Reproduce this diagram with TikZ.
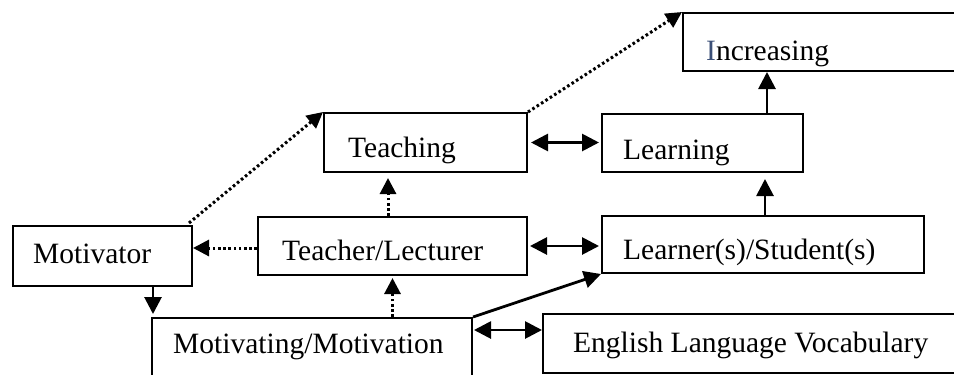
\documentclass[tikz,border=0pt]{standalone}
\usepackage{fontspec}
\setmainfont{Liberation Serif}
\usetikzlibrary{arrows.meta}
\definecolor{capblue}{RGB}{60,80,120}
\begin{document}
\begin{tikzpicture}[x=1bp,y=-1bp,
  box/.style={draw, line width=2bp, inner sep=0pt},
  lbl/.style={anchor=base west, inner sep=0pt, font=\fontsize{29.5bp}{34bp}\selectfont},
  arr/.style={line width=2.8bp, -{Triangle[length=17bp,width=17bp]}},
  dbl/.style={line width=2.8bp, {Triangle[length=17bp,width=17bp]}-{Triangle[length=17bp,width=17bp]}},
  dotarr/.style={line width=3bp, dash pattern=on 2.6bp off 2.6bp, -{Triangle[length=16bp,width=16bp]}}]
\useasboundingbox (0,0) rectangle (954,374);
\clip (0,0) rectangle (954,374);
\fill[white] (0,0) rectangle (954,374);
% boxes
\node[box, minimum width=203bp, minimum height=59bp] (teach) at (425.5,142.5) {};
\node[box, minimum width=201bp, minimum height=58bp] (learn) at (702.5,143) {};
\node[box, minimum width=300bp, minimum height=58bp] (inc) at (833,42) {};
\node[box, minimum width=179bp, minimum height=60bp] (mot) at (102.5,256) {};
\node[box, minimum width=269bp, minimum height=58bp] (teacher) at (392.5,246) {};
\node[box, minimum width=322bp, minimum height=57bp] (learner) at (763,244.5) {};
\node[box, minimum width=320bp, minimum height=62bp] (motv) at (312,349) {};
\node[box, minimum width=420bp, minimum height=59bp] (eng) at (753,343.5) {};
% texts
\node[lbl] (tteach) at (348,157) {Teaching};
\node[lbl] (tlearn) at (623,159) {Learning};
\node[lbl] (tinc) at (706,60) {\textcolor{capblue}{I}ncreasing};
\node[lbl] (tmot) at (33,263) {Motivator};
\node[lbl] (tteacher) at (282,260) {Teacher/Lecturer};
\node[lbl] (tlearner) at (623,259) {Learner(s)/Student(s)};
\node[lbl] (tmotv) at (173,353) {Motivating/Motivation};
\node[lbl] (teng) at (573,352) {English Language Vocabulary};
% helper coordinates
\coordinate (x767) at (767,0);
\coordinate (x765) at (765,0);
\coordinate (x388) at (388,0);
\coordinate (x153) at (153,0);
\coordinate (y330) at (0,330);
\coordinate (y248) at (0,248);
% connectors
\draw[dotarr] ([xshift=-4bp,yshift=2bp]mot.north east) -- (teach.north west);
\draw[dotarr] (teach.north east) -- (inc.north west);
\draw[dbl, shorten <=3bp, shorten >=2bp] (teach.east) -- (teach.east -| learn.west);
\draw[arr] (learn.north -| x767) -- (inc.south -| x767);
\draw[arr, shorten >=6bp] (learner.north -| x765) -- (learn.south -| x765);
\draw[dbl, shorten <=2bp, shorten >=2bp] (teacher.east) -- (teacher.east -| learner.west);
\draw[dotarr] (y248 -| teacher.west) -- (y248 -| mot.east);
\draw[dotarr, shorten >=5bp] (teacher.north -| x388) -- (teach.south -| x388);
\draw[dotarr, shorten >=2bp] (teacher.south |- motv.north) -- (teacher.south);
\draw[arr, shorten >=3bp] (mot.south -| x153) -- (motv.north -| x153);
\draw[arr] (motv.north east) -- (learner.south west);
\draw[dbl, shorten <=1bp] (y330 -| motv.east) -- (y330 -| eng.west);
\end{tikzpicture}
\end{document}
